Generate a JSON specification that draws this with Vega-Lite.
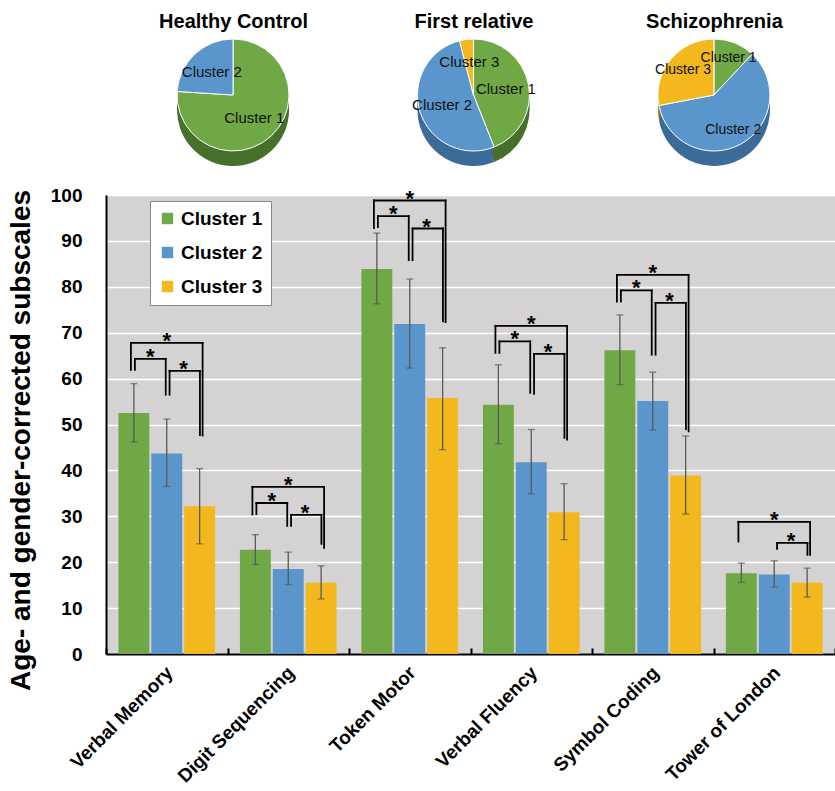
{
  "$schema": "https://vega.github.io/schema/vega-lite/v6.json",
  "background": "white",
  "padding": {"left": 7, "top": 11, "right": 0, "bottom": 0},
  "config": {"font": "Liberation Sans", "view": {"stroke": null}},
  "bounds": "flush",
  "spacing": 38,
  "resolve": {"scale": {"color": "independent", "x": "independent", "y": "independent"}, "legend": {"color": "independent"}},
  "datasets": {
    "pies": [
      {"group": "Healthy Control", "cluster": "Cluster 1", "pct": 76},
      {"group": "Healthy Control", "cluster": "Cluster 2", "pct": 24},
      {"group": "First relative", "cluster": "Cluster 1", "pct": 44},
      {"group": "First relative", "cluster": "Cluster 2", "pct": 52},
      {"group": "First relative", "cluster": "Cluster 3", "pct": 4},
      {"group": "Schizophrenia", "cluster": "Cluster 1", "pct": 12},
      {"group": "Schizophrenia", "cluster": "Cluster 2", "pct": 60},
      {"group": "Schizophrenia", "cluster": "Cluster 3", "pct": 28}
    ],
    "bars": [
      {"task": "Verbal Memory", "cluster": "Cluster 1", "mean": 52.5, "lo": 46.2, "hi": 58.9},
      {"task": "Verbal Memory", "cluster": "Cluster 2", "mean": 43.7, "lo": 36.5, "hi": 51.2},
      {"task": "Verbal Memory", "cluster": "Cluster 3", "mean": 32.2, "lo": 24.0, "hi": 40.4},
      {"task": "Digit Sequencing", "cluster": "Cluster 1", "mean": 22.7, "lo": 19.5, "hi": 26.0},
      {"task": "Digit Sequencing", "cluster": "Cluster 2", "mean": 18.5, "lo": 15.1, "hi": 22.2},
      {"task": "Digit Sequencing", "cluster": "Cluster 3", "mean": 15.5, "lo": 12.0, "hi": 19.2},
      {"task": "Token Motor", "cluster": "Cluster 1", "mean": 83.9, "lo": 76.3, "hi": 91.7},
      {"task": "Token Motor", "cluster": "Cluster 2", "mean": 71.9, "lo": 62.3, "hi": 81.7},
      {"task": "Token Motor", "cluster": "Cluster 3", "mean": 55.8, "lo": 44.5, "hi": 66.7},
      {"task": "Verbal Fluency", "cluster": "Cluster 1", "mean": 54.3, "lo": 45.8, "hi": 63.0},
      {"task": "Verbal Fluency", "cluster": "Cluster 2", "mean": 41.8, "lo": 34.9, "hi": 48.9},
      {"task": "Verbal Fluency", "cluster": "Cluster 3", "mean": 30.9, "lo": 24.9, "hi": 37.1},
      {"task": "Symbol Coding", "cluster": "Cluster 1", "mean": 66.2, "lo": 58.7, "hi": 73.9},
      {"task": "Symbol Coding", "cluster": "Cluster 2", "mean": 55.1, "lo": 48.8, "hi": 61.4},
      {"task": "Symbol Coding", "cluster": "Cluster 3", "mean": 38.9, "lo": 30.5, "hi": 47.5},
      {"task": "Tower of London", "cluster": "Cluster 1", "mean": 17.6, "lo": 15.6, "hi": 19.8},
      {"task": "Tower of London", "cluster": "Cluster 2", "mean": 17.3, "lo": 14.6, "hi": 20.3},
      {"task": "Tower of London", "cluster": "Cluster 3", "mean": 15.5, "lo": 12.4, "hi": 18.7}
    ],
    "brackets": [
      {"task": "Verbal Memory", "pair": "1-3", "from": "Cluster 1", "to": "Cluster 3", "top": 67.8, "legFrom": 61.9, "legTo": 47.6},
      {"task": "Verbal Memory", "pair": "1-2", "from": "Cluster 1", "to": "Cluster 2", "top": 64.3, "legFrom": 61.9, "legTo": 56.5},
      {"task": "Verbal Memory", "pair": "2-3", "from": "Cluster 2", "to": "Cluster 3", "top": 61.7, "legFrom": 56.5, "legTo": 47.7},
      {"task": "Digit Sequencing", "pair": "1-3", "from": "Cluster 1", "to": "Cluster 3", "top": 36.4, "legFrom": 30.4, "legTo": 23.1},
      {"task": "Digit Sequencing", "pair": "1-2", "from": "Cluster 1", "to": "Cluster 2", "top": 32.9, "legFrom": 30.5, "legTo": 27.9},
      {"task": "Digit Sequencing", "pair": "2-3", "from": "Cluster 2", "to": "Cluster 3", "top": 30.3, "legFrom": 27.9, "legTo": 24.0},
      {"task": "Token Motor", "pair": "1-3", "from": "Cluster 1", "to": "Cluster 3", "top": 98.8, "legFrom": 92.8, "legTo": 72.3},
      {"task": "Token Motor", "pair": "1-2", "from": "Cluster 1", "to": "Cluster 2", "top": 95.4, "legFrom": 93.0, "legTo": 85.8},
      {"task": "Token Motor", "pair": "2-3", "from": "Cluster 2", "to": "Cluster 3", "top": 92.7, "legFrom": 85.8, "legTo": 72.5},
      {"task": "Verbal Fluency", "pair": "1-3", "from": "Cluster 1", "to": "Cluster 3", "top": 71.5, "legFrom": 65.6, "legTo": 46.7},
      {"task": "Verbal Fluency", "pair": "1-2", "from": "Cluster 1", "to": "Cluster 2", "top": 68.1, "legFrom": 65.6, "legTo": 56.9},
      {"task": "Verbal Fluency", "pair": "2-3", "from": "Cluster 2", "to": "Cluster 3", "top": 65.4, "legFrom": 56.7, "legTo": 47.1},
      {"task": "Symbol Coding", "pair": "1-3", "from": "Cluster 1", "to": "Cluster 3", "top": 82.6, "legFrom": 76.8, "legTo": 48.5},
      {"task": "Symbol Coding", "pair": "1-2", "from": "Cluster 1", "to": "Cluster 2", "top": 79.2, "legFrom": 76.8, "legTo": 65.2},
      {"task": "Symbol Coding", "pair": "2-3", "from": "Cluster 2", "to": "Cluster 3", "top": 76.5, "legFrom": 65.2, "legTo": 49.0},
      {"task": "Tower of London", "pair": "1-3", "from": "Cluster 1", "to": "Cluster 3", "top": 28.8, "legFrom": 24.5, "legTo": 21.6},
      {"task": "Tower of London", "pair": "2-3", "from": "Cluster 2", "to": "Cluster 3", "top": 24.2, "legFrom": 22.9, "legTo": 21.6}
    ]
  },
  "vconcat": [
    {
      "data": {"name": "pies"},
      "width": 729,
      "height": 124,
      "encoding": {
        "x": {"field": "group", "type": "nominal",
              "scale": {"type": "point", "domain": ["Healthy Control", "First relative", "Schizophrenia"], "padding": 0.516, "align": 0.512},
              "axis": {"orient": "top", "title": null, "domain": false, "ticks": false, "grid": false, "labelAngle": 0,
                       "labelFontSize": 20, "labelFontWeight": "bold", "labelColor": "black", "labelPadding": 2}},
        "theta": {"field": "pct", "type": "quantitative", "stack": true},
        "order": {"field": "cluster", "type": "nominal"}
      },
      "layer": [
        {
          "transform": [{"filter": "datum.group === 'Healthy Control'"}],
          "layer": [
            {"mark": {"type": "arc", "outerRadius": 56, "yOffset": 15},
             "encoding": {"fill": {"field": "cluster", "type": "nominal", "scale": {"domain": ["Cluster 1", "Cluster 2", "Cluster 3"], "range": ["#46702c", "#3d6b99", "#b58913"]}, "legend": null}}},
            {"mark": {"type": "arc", "outerRadius": 56, "yOffset": 10},
             "encoding": {"fill": {"field": "cluster", "type": "nominal", "legend": null}}},
            {"mark": {"type": "arc", "outerRadius": 56, "yOffset": 5},
             "encoding": {"fill": {"field": "cluster", "type": "nominal", "legend": null}}},
            {"mark": {"type": "arc", "outerRadius": 56, "stroke": "white", "strokeWidth": 1},
             "encoding": {"color": {"field": "cluster", "type": "nominal", "scale": {"domain": ["Cluster 1", "Cluster 2", "Cluster 3"], "range": ["#6FA844", "#5A96CB", "#F3B81E"]}, "legend": null}}},
            {"mark": {"type": "text", "radius": 31, "fontSize": 15, "color": "#111111"},
             "encoding": {"text": {"field": "cluster", "type": "nominal"}}}
          ]
        },
        {
          "transform": [{"filter": "datum.group === 'First relative'"}],
          "layer": [
            {"mark": {"type": "arc", "outerRadius": 56, "yOffset": 15},
             "encoding": {"fill": {"field": "cluster", "type": "nominal", "legend": null}}},
            {"mark": {"type": "arc", "outerRadius": 56, "yOffset": 10},
             "encoding": {"fill": {"field": "cluster", "type": "nominal", "legend": null}}},
            {"mark": {"type": "arc", "outerRadius": 56, "yOffset": 5},
             "encoding": {"fill": {"field": "cluster", "type": "nominal", "legend": null}}},
            {"mark": {"type": "arc", "outerRadius": 56, "stroke": "white", "strokeWidth": 1},
             "encoding": {"color": {"field": "cluster", "type": "nominal", "legend": null}}},
            {"mark": {"type": "text", "radius": 33, "fontSize": 15, "color": "#111111"},
             "encoding": {"text": {"field": "cluster", "type": "nominal"}}}
          ]
        },
        {
          "transform": [{"filter": "datum.group === 'Schizophrenia'"}],
          "layer": [
            {"mark": {"type": "arc", "outerRadius": 56, "yOffset": 15},
             "encoding": {"fill": {"field": "cluster", "type": "nominal", "legend": null}}},
            {"mark": {"type": "arc", "outerRadius": 56, "yOffset": 10},
             "encoding": {"fill": {"field": "cluster", "type": "nominal", "legend": null}}},
            {"mark": {"type": "arc", "outerRadius": 56, "yOffset": 5},
             "encoding": {"fill": {"field": "cluster", "type": "nominal", "legend": null}}},
            {"mark": {"type": "arc", "outerRadius": 56, "stroke": "white", "strokeWidth": 1},
             "encoding": {"color": {"field": "cluster", "type": "nominal", "legend": null}}},
            {"mark": {"type": "text", "radius": 40, "fontSize": 14, "color": "#111111"},
             "encoding": {"text": {"field": "cluster", "type": "nominal"}}}
          ]
        }
      ]
    },
    {
      "width": 729,
      "height": 459,
      "view": {"fill": "#D4D2D2", "stroke": null},
      "resolve": {"scale": {"xOffset": "independent"}},
      "encoding": {
        "x": {
          "field": "task", "type": "nominal",
          "sort": ["Verbal Memory", "Digit Sequencing", "Token Motor", "Verbal Fluency", "Symbol Coding", "Tower of London"],
          "scale": {"paddingInner": 0, "paddingOuter": 0},
          "axis": {"title": null, "labelAngle": -45, "labelFontSize": 19, "labelFontWeight": "bold", "labelColor": "black",
                   "domainColor": "black", "domainWidth": 2, "tickColor": "black", "tickWidth": 2, "tickSize": -6,
                   "tickBand": "extent", "labelPadding": 15, "labelOffset": -4, "grid": false}
        }
      },
      "layer": [
        {
          "data": {"name": "bars"},
          "encoding": {"xOffset": {"field": "cluster", "type": "nominal", "scale": {"domain": ["Cluster 1", "Cluster 2", "Cluster 3"], "paddingInner": 0.06, "paddingOuter": 0.378}}},
          "layer": [
            {"mark": {"type": "bar"},
             "encoding": {
               "y": {"field": "mean", "type": "quantitative", "scale": {"domain": [0, 100], "nice": false},
                     "title": "Age- and gender-corrected subscales",
                     "axis": {"values": [0, 10, 20, 30, 40, 50, 60, 70, 80, 90, 100], "grid": true, "gridColor": "white", "gridWidth": 1.6,
                              "domainColor": "black", "domainWidth": 2, "ticks": false,
                              "labelFontSize": 19, "labelFontWeight": "bold", "labelColor": "black", "labelPadding": 24,
                              "titleFontSize": 28, "titleFontWeight": "bold", "titleColor": "black", "titlePadding": 15, "titleY": 245}},
               "color": {"field": "cluster", "type": "nominal",
                         "scale": {"domain": ["Cluster 1", "Cluster 2", "Cluster 3"], "range": ["#6FA844", "#5A96CB", "#F3B81E"]},
                         "legend": {"orient": "none", "legendX": 44, "legendY": 6, "title": null, "direction": "vertical",
                                    "labelFontSize": 19, "labelFontWeight": "bold", "labelColor": "black",
                                    "symbolType": "square", "symbolSize": 130, "symbolStrokeWidth": 0,
                                    "fillColor": "white", "strokeColor": "#888888", "padding": 8, "rowPadding": 14, "labelOffset": 4}}
             }},
            {"mark": {"type": "rule", "color": "#595959", "strokeWidth": 1.3},
             "encoding": {"y": {"field": "lo", "type": "quantitative", "title": "Age- and gender-corrected subscales"}, "y2": {"field": "hi"}}},
            {"mark": {"type": "tick", "color": "#595959", "thickness": 1.3, "size": 7},
             "encoding": {"y": {"field": "lo", "type": "quantitative", "title": "Age- and gender-corrected subscales"}}},
            {"mark": {"type": "tick", "color": "#595959", "thickness": 1.3, "size": 7},
             "encoding": {"y": {"field": "hi", "type": "quantitative", "title": "Age- and gender-corrected subscales"}}}
          ]
        },
        {
          "data": {"name": "brackets"},
          "transform": [{"filter": "datum.pair === '1-3'"}],
          "layer": [
            {"mark": {"type": "rule", "color": "black", "strokeWidth": 1.8, "strokeCap": "square"},
             "encoding": {"xOffset": {"field": "from", "type": "nominal", "scale": {"type": "point", "domain": ["Cluster 1", "Cluster 2", "Cluster 3"], "padding": 0.695, "align": 0.5}},
                          "y": {"field": "top", "type": "quantitative", "title": "Age- and gender-corrected subscales"}, "y2": {"field": "legFrom"}}},
            {"mark": {"type": "rule", "color": "black", "strokeWidth": 1.8, "strokeCap": "square"},
             "encoding": {"xOffset": {"field": "to", "type": "nominal"},
                          "y": {"field": "top", "type": "quantitative", "title": "Age- and gender-corrected subscales"}, "y2": {"field": "legTo"}}},
            {"transform": [{"fold": ["from", "to"], "as": ["end", "cl"]}],
             "mark": {"type": "line", "color": "black", "strokeWidth": 1.8, "strokeCap": "square"},
             "encoding": {"xOffset": {"field": "cl", "type": "nominal"},
                          "y": {"field": "top", "type": "quantitative", "title": "Age- and gender-corrected subscales"}, "detail": {"field": "task"}}},
            {"mark": {"type": "text", "text": "*", "fontSize": 22, "fontWeight": "bold", "dx": 35.85, "dy": 5, "baseline": "alphabetic", "color": "black"},
             "encoding": {"xOffset": {"field": "from", "type": "nominal"},
                          "y": {"field": "top", "type": "quantitative", "title": "Age- and gender-corrected subscales"}}}
          ]
        },
        {
          "data": {"name": "brackets"},
          "transform": [{"filter": "datum.pair === '1-2'"}],
          "layer": [
            {"mark": {"type": "rule", "color": "black", "strokeWidth": 1.8, "strokeCap": "square"},
             "encoding": {"xOffset": {"field": "from", "type": "nominal", "scale": {"type": "point", "domain": ["Cluster 1", "Cluster 2", "Cluster 3"], "padding": 0.969, "align": 0.483}},
                          "y": {"field": "top", "type": "quantitative", "title": "Age- and gender-corrected subscales"}, "y2": {"field": "legFrom"}}},
            {"mark": {"type": "rule", "color": "black", "strokeWidth": 1.8, "strokeCap": "square"},
             "encoding": {"xOffset": {"field": "to", "type": "nominal"},
                          "y": {"field": "top", "type": "quantitative", "title": "Age- and gender-corrected subscales"}, "y2": {"field": "legTo"}}},
            {"transform": [{"fold": ["from", "to"], "as": ["end", "cl"]}],
             "mark": {"type": "line", "color": "black", "strokeWidth": 1.8, "strokeCap": "square"},
             "encoding": {"xOffset": {"field": "cl", "type": "nominal"},
                          "y": {"field": "top", "type": "quantitative", "title": "Age- and gender-corrected subscales"}, "detail": {"field": "task"}}},
            {"mark": {"type": "text", "text": "*", "fontSize": 22, "fontWeight": "bold", "dx": 15.4, "dy": 5, "baseline": "alphabetic", "color": "black"},
             "encoding": {"xOffset": {"field": "from", "type": "nominal"},
                          "y": {"field": "top", "type": "quantitative", "title": "Age- and gender-corrected subscales"}}}
          ]
        },
        {
          "data": {"name": "brackets"},
          "transform": [{"filter": "datum.pair === '2-3'"}],
          "layer": [
            {"mark": {"type": "rule", "color": "black", "strokeWidth": 1.8, "strokeCap": "square"},
             "encoding": {"xOffset": {"field": "from", "type": "nominal", "scale": {"type": "point", "domain": ["Cluster 1", "Cluster 2", "Cluster 3"], "padding": 1.181, "align": 0.546}},
                          "y": {"field": "top", "type": "quantitative", "title": "Age- and gender-corrected subscales"}, "y2": {"field": "legFrom"}}},
            {"mark": {"type": "rule", "color": "black", "strokeWidth": 1.8, "strokeCap": "square"},
             "encoding": {"xOffset": {"field": "to", "type": "nominal"},
                          "y": {"field": "top", "type": "quantitative", "title": "Age- and gender-corrected subscales"}, "y2": {"field": "legTo"}}},
            {"transform": [{"fold": ["from", "to"], "as": ["end", "cl"]}],
             "mark": {"type": "line", "color": "black", "strokeWidth": 1.8, "strokeCap": "square"},
             "encoding": {"xOffset": {"field": "cl", "type": "nominal"},
                          "y": {"field": "top", "type": "quantitative", "title": "Age- and gender-corrected subscales"}, "detail": {"field": "task"}}},
            {"mark": {"type": "text", "text": "*", "fontSize": 22, "fontWeight": "bold", "dx": 13.9, "dy": 5, "baseline": "alphabetic", "color": "black"},
             "encoding": {"xOffset": {"field": "from", "type": "nominal"},
                          "y": {"field": "top", "type": "quantitative", "title": "Age- and gender-corrected subscales"}}}
          ]
        }
      ]
    }
  ]
}
